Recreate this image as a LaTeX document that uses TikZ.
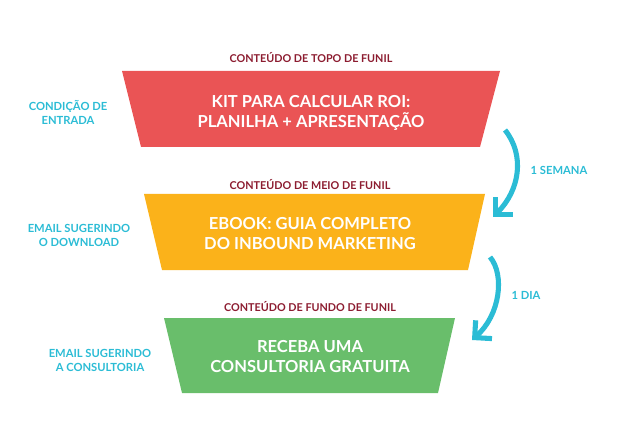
\documentclass[tikz,border=0pt]{standalone}
\usepackage{fontspec}
\setmainfont{Lato}
\usetikzlibrary{arrows.meta}
\definecolor{topored}{HTML}{EA5455}
\definecolor{meioyellow}{HTML}{FBB21A}
\definecolor{fundogreen}{HTML}{69BE6B}
\definecolor{stepcyan}{HTML}{2BBCD5}
\definecolor{headmaroon}{HTML}{8C1C30}
\tikzset{
  etapa/.style={text=white, align=center, font=\bfseries\fontsize{12.4}{15}\selectfont},
  cabecalho/.style={text=headmaroon, font=\bfseries\fontsize{8.1}{9}\selectfont},
  gatilho/.style={text=stepcyan, align=center, font=\bfseries\fontsize{8.4}{10.5}\selectfont},
  prazo/.style={stepcyan, line width=3.8pt, -{Straight Barb[angle=90:13pt, sharp]}},
}
\begin{document}
\begin{tikzpicture}[x=0.75pt, y=-0.75pt]
        \useasboundingbox (0,0) rectangle (620,438);
        % funil
        \fill[topored] (122,71) -- (500,71) -- (480,147) -- (141,147) -- cycle;
        \fill[meioyellow] (144,194) -- (485,194) -- (468,270) -- (162,270) -- cycle;
        \fill[fundogreen] (164,318) -- (455,318) -- (438,393) -- (182,393) -- cycle;
        \node[cabecalho] (htopo) at (311,58) {CONTEÚDO DE TOPO DE FUNIL};
        \node[cabecalho] (hmeio) at (310,185) {CONTEÚDO DE MEIO DE FUNIL};
        \node[cabecalho] (hfundo) at (310,307) {CONTEÚDO DE FUNDO DE FUNIL};
        \node[etapa] (kit) at (311,113) {KIT PARA CALCULAR ROI:\\PLANILHA + APRESENTAÇÃO};
        \node[etapa] (ebook) at (310,234) {EBOOK: GUIA COMPLETO\\DO INBOUND MARKETING};
        \node[etapa] (consultoria) at (310,357) {RECEBA UMA\\CONSULTORIA GRATUITA};
        \node[gatilho] (entrada) at (68,112) {CONDIÇÃO DE\\ENTRADA};
        \node[gatilho] (download) at (79,235) {EMAIL SUGERINDO\\O DOWNLOAD};
        \node[gatilho] (emailcons) at (100,360) {EMAIL SUGERINDO\\A CONSULTORIA};
        % intervalos
        \coordinate (s1) at (505,130);
        \coordinate (e1) at (493,217);
        \coordinate (s2) at (490,257);
        \coordinate (e2) at (472,340);
        \draw[prazo] (s1) .. controls (525,155) and (520,190) .. (e1);
        \draw[prazo] (s2) .. controls (505,275) and (500,315) .. (e2);
        \node[gatilho] (semana) at (559,170) {1 SEMANA};
        \node[gatilho] (dia) at (526,295) {1 DIA};
      \end{tikzpicture}
\end{document}
